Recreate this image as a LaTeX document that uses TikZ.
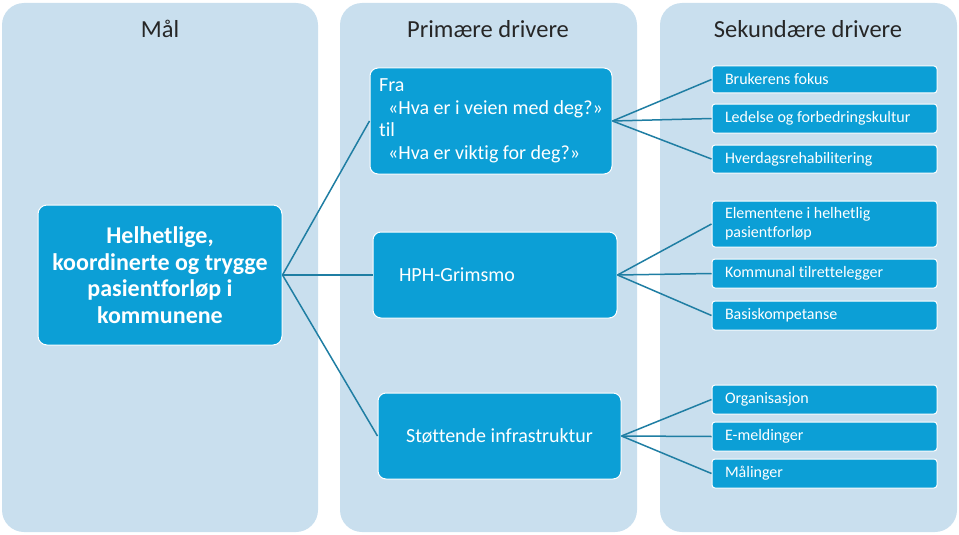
\documentclass[tikz,border=0pt]{standalone}
\usepackage{fontspec}
\setmainfont[Ligatures=NoCommon]{Carlito}
\usetikzlibrary{positioning}
\definecolor{colbg}{HTML}{C9DFEE}
\definecolor{boxblue}{HTML}{0C9FD6}
\definecolor{linkteal}{HTML}{1F7EA3}
\tikzstyle{column}=[fill=colbg, rounded corners=22pt]
\tikzstyle{coltitle}=[font=\fontsize{24.5}{28}\selectfont, text=black!85]
\tikzstyle{goalbox}=[draw=white, line width=1pt, fill=boxblue, rounded corners=9pt, text=white, align=center, font=\fontsize{24}{26.5}\selectfont\bfseries]
\tikzstyle{primbox}=[draw=white, line width=1pt, fill=boxblue, rounded corners=8pt, text=white, font=\fontsize{20}{22.5}\selectfont]
\tikzstyle{secbox}=[draw=white, line width=1pt, fill=boxblue, rounded corners=3pt, text=white, minimum width=225pt, text width=199pt, align=flush left, inner xsep=13pt, font=\fontsize{16}{19}\selectfont]
\tikzstyle{link}=[draw=linkteal, line width=1.5pt]

\begin{document}
\begin{tikzpicture}[x=1pt,y=-1pt]
  \useasboundingbox (0,0) rectangle (959,535);
  % columns
  \fill[column] (2,3) rectangle (318,532);
  \fill[column] (340,3) rectangle (637,532);
  \fill[column] (660,3) rectangle (957,532);
  \node [coltitle] (t1) at (160,29) {Mål};
  \node [coltitle] (t2) at (488,29) {Primære drivere};
  \node [coltitle] (t3) at (808,29) {Sekundære drivere};
  % goal
  \node [goalbox, minimum width=244pt, minimum height=140pt] (goal) at (160,275) {Helhetlige,\\ koordinerte og trygge\\ pasientforløp i\\ kommunene};
  % primary drivers
  \node [primbox, minimum width=242pt, minimum height=106pt, align=left] (p1) at (491,121) {Fra\\ \hspace*{9pt}«Hva er i veien med deg?»\\ til\\ \hspace*{9pt}«Hva er viktig for deg?»};
  \node [primbox, minimum width=244pt, minimum height=86pt, text width=192pt, align=flush left, inner xsep=26pt] (p2) at (495,275) {HPH-Grimsmo};
  \node [primbox, minimum width=243pt, minimum height=86pt, align=center] (p3) at (499.5,436) {Støttende infrastruktur};
  % secondary drivers
  \node [secbox, minimum height=27pt] (s1) at (824.5,79.5) {Brukerens fokus};
  \node [secbox, minimum height=29pt] (s2) at (824.5,118.5) {Ledelse og forbedringskultur};
  \node [secbox, minimum height=28pt] (s3) at (824.5,159) {Hverdagsrehabilitering};
  \node [secbox, minimum height=46pt] (s4) at (824.5,224) {Elementene i helhetlig\\ pasientforløp};
  \node [secbox, minimum height=29pt] (s5) at (824.5,273.5) {Kommunal tilrettelegger};
  \node [secbox, minimum height=29pt] (s6) at (824.5,315.5) {Basiskompetanse};
  \node [secbox, minimum height=29pt] (s7) at (824.5,399.5) {Organisasjon};
  \node [secbox, minimum height=29pt] (s8) at (824.5,436.5) {E-meldinger};
  \node [secbox, minimum height=29pt] (s9) at (824.5,473.5) {Målinger};
  % connectors
  \path[link]
    (goal.east) edge (p1.west)
    (goal.east) edge (p2.west)
    (goal.east) edge (p3.west)
    (p1.east) edge (s1.west)
    (p1.east) edge (s2.west)
    (p1.east) edge (s3.west)
    (p2.east) edge (s4.west)
    (p2.east) edge (s5.west)
    (p2.east) edge (s6.west)
    (p3.east) edge (s7.west)
    (p3.east) edge (s8.west)
    (p3.east) edge (s9.west);
\end{tikzpicture}
\end{document}
